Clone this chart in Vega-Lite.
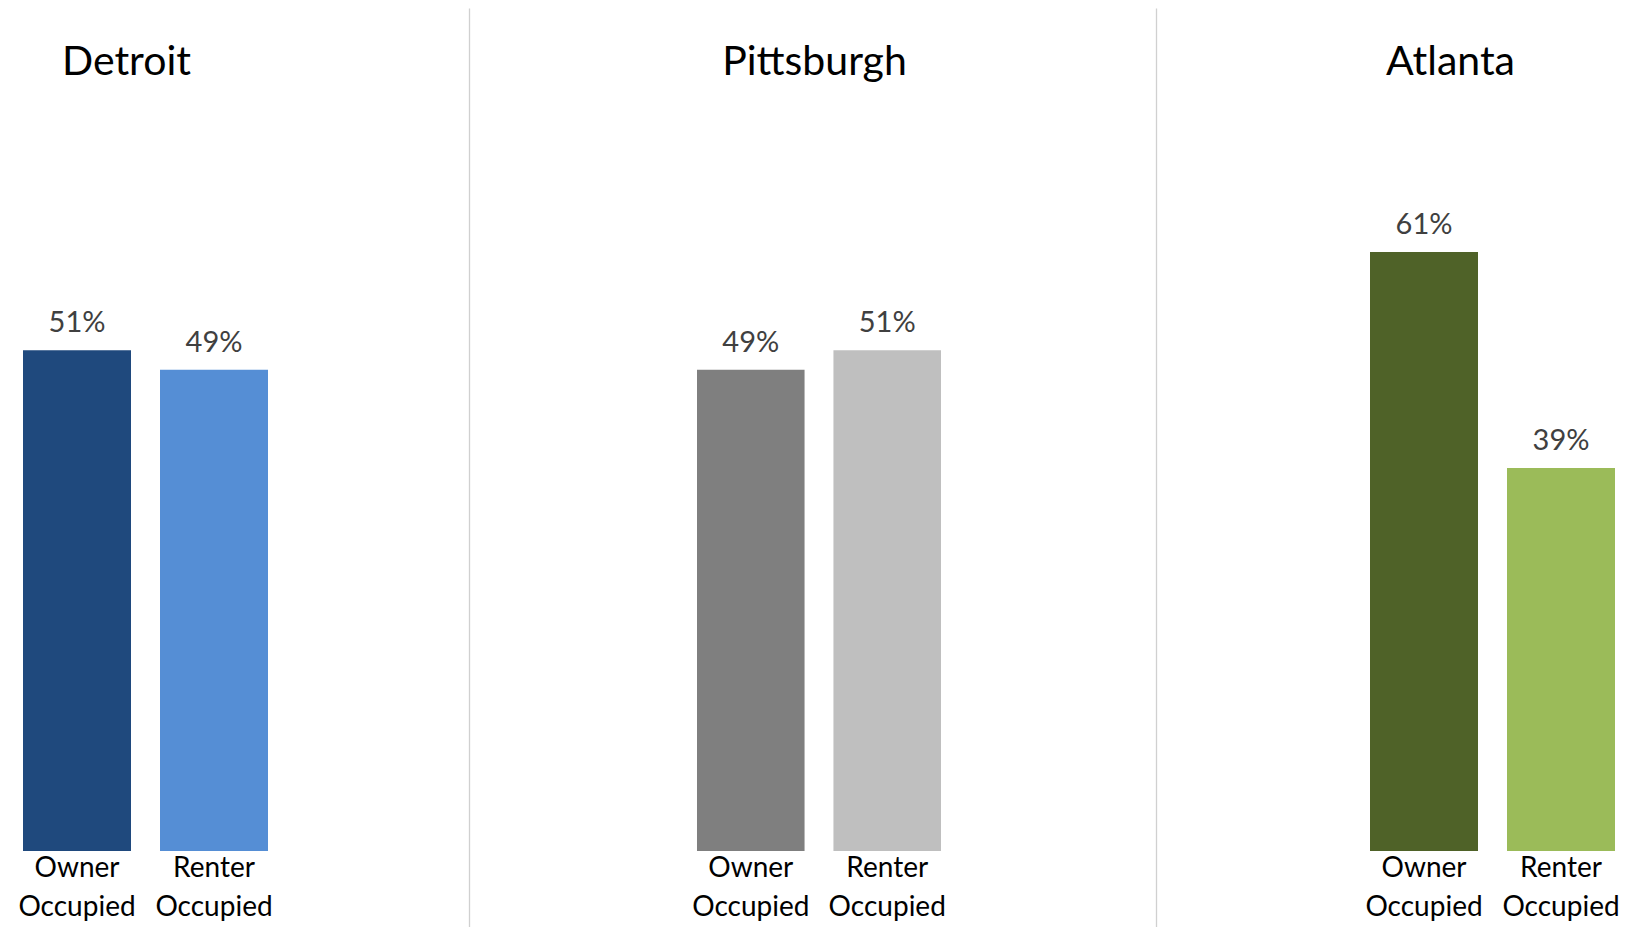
{
  "$schema": "https://vega.github.io/schema/vega-lite/v6.json",
  "padding": {"left": 0, "top": 8, "right": 0, "bottom": 0},
  "bounds": "flush",
  "spacing": 0,
  "background": "white",
  "config": {
    "view": {"stroke": null},
    "font": "Lato",
    "title": {"font": "Lato", "fontSize": 41, "fontWeight": "normal", "color": "#000000", "baseline": "alphabetic", "offset": -76},
    "axis": {"labelFont": "Lato", "labelFontSize": 28, "labelColor": "#000000", "grid": false}
  },
  "datasets": {
    "tenure": [
      {"city": "Detroit", "type": "Owner Occupied", "share": 0.51},
      {"city": "Detroit", "type": "Renter Occupied", "share": 0.49},
      {"city": "Pittsburgh", "type": "Owner Occupied", "share": 0.49},
      {"city": "Pittsburgh", "type": "Renter Occupied", "share": 0.51},
      {"city": "Atlanta", "type": "Owner Occupied", "share": 0.61},
      {"city": "Atlanta", "type": "Renter Occupied", "share": 0.39}
    ]
  },
  "resolve": {"scale": {"x": "independent", "y": "independent", "color": "independent"}},
  "hconcat": [
    {
      "width": 469, "height": 919,
      "title": {"text": "Detroit", "anchor": "start", "dx": 62},
      "data": {"name": "tenure"},
      "transform": [{"filter": "datum.city === 'Detroit'"}],
      "encoding": {
        "x": {"field": "type", "type": "nominal", "sort": null,
              "scale": {"range": [23, 268], "paddingInner": 0.2117, "paddingOuter": 0},
              "axis": {"title": null, "domain": false, "ticks": false, "labelAngle": 0, "offset": -76, "labelPadding": 3, "labelLineHeight": 39, "labelExpr": "split(datum.label, ' ')"}},
        "y": {"field": "share", "type": "quantitative", "scale": {"domain": [-0.0774, 0.8585], "nice": false, "zero": false}, "axis": null}
      },
      "layer": [
        {"mark": {"type": "bar"}, "encoding": {"y2": {"datum": 0}, "color": {"field": "type", "type": "nominal", "scale": {"domain": ["Owner Occupied", "Renter Occupied"], "range": ["#1F497D", "#558ED5"]}, "legend": null}}},
        {"mark": {"type": "text", "baseline": "alphabetic", "dy": -18, "fontSize": 29, "color": "#404040", "font": "Lato"}, "encoding": {"text": {"field": "share", "type": "quantitative", "format": ".0%"}}}
      ]
    },
    {
      "width": 687, "height": 919,
      "title": {"text": "Pittsburgh", "anchor": "middle", "dx": 2},
      "data": {"name": "tenure"},
      "transform": [{"filter": "datum.city === 'Pittsburgh'"}],
      "encoding": {
        "x": {"field": "type", "type": "nominal", "sort": null,
              "scale": {"range": [228, 472], "paddingInner": 0.2117, "paddingOuter": 0},
              "axis": {"title": null, "domain": false, "ticks": false, "labelAngle": 0, "offset": -76, "labelPadding": 3, "labelLineHeight": 39, "labelExpr": "split(datum.label, ' ')"}},
        "y": {"field": "share", "type": "quantitative", "scale": {"domain": [-0.0774, 0.8585], "nice": false, "zero": false},
              "axis": {"domain": true, "domainColor": "#D0D0D0", "domainWidth": 1.3, "ticks": false, "labels": false, "title": null, "grid": false}}
      },
      "layer": [
        {"mark": {"type": "bar"}, "encoding": {"y2": {"datum": 0}, "color": {"field": "type", "type": "nominal", "scale": {"domain": ["Owner Occupied", "Renter Occupied"], "range": ["#7F7F7F", "#BFBFBF"]}, "legend": null}}},
        {"mark": {"type": "text", "baseline": "alphabetic", "dy": -18, "fontSize": 29, "color": "#404040", "font": "Lato"}, "encoding": {"text": {"field": "share", "type": "quantitative", "format": ".0%"}}}
      ]
    },
    {
      "width": 475, "height": 919,
      "title": {"text": "Atlanta", "anchor": "middle", "dx": 57},
      "data": {"name": "tenure"},
      "transform": [{"filter": "datum.city === 'Atlanta'"}],
      "encoding": {
        "x": {"field": "type", "type": "nominal", "sort": null,
              "scale": {"range": [214, 459], "paddingInner": 0.2117, "paddingOuter": 0},
              "axis": {"title": null, "domain": false, "ticks": false, "labelAngle": 0, "offset": -76, "labelPadding": 3, "labelLineHeight": 39, "labelExpr": "split(datum.label, ' ')"}},
        "y": {"field": "share", "type": "quantitative", "scale": {"domain": [-0.0774, 0.8585], "nice": false, "zero": false},
              "axis": {"domain": true, "domainColor": "#D0D0D0", "domainWidth": 1.3, "ticks": false, "labels": false, "title": null, "grid": false}}
      },
      "layer": [
        {"mark": {"type": "bar"}, "encoding": {"y2": {"datum": 0}, "color": {"field": "type", "type": "nominal", "scale": {"domain": ["Owner Occupied", "Renter Occupied"], "range": ["#4F6228", "#9BBB59"]}, "legend": null}}},
        {"mark": {"type": "text", "baseline": "alphabetic", "dy": -18, "fontSize": 29, "color": "#404040", "font": "Lato"}, "encoding": {"text": {"field": "share", "type": "quantitative", "format": ".0%"}}}
      ]
    }
  ]
}
